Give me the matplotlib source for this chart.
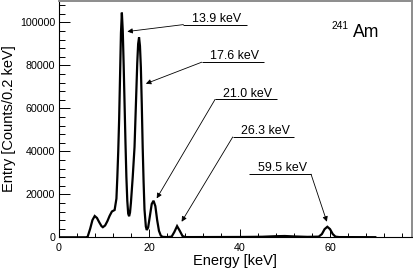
import matplotlib
matplotlib.use("Agg")
import matplotlib.pyplot as plt
from matplotlib.ticker import MultipleLocator

plt.rcParams['font.family'] = ['Liberation Sans', 'DejaVu Sans']

# Spectrum (energy in keV, counts per 0.2 keV)
energy = [0.0, 6.2, 6.4, 7.0, 7.5, 8.0, 8.5, 9.0, 9.5, 9.8, 10.3, 10.8, 11.3, 11.8,
          12.4, 12.8, 13.0, 13.2, 13.4, 13.6, 13.8, 14.0, 14.2, 14.4, 14.6, 14.8,
          15.0, 15.2, 15.4, 15.6, 15.8, 16.0, 16.4, 16.8, 17.0, 17.2, 17.4, 17.6,
          17.8, 18.0, 18.2, 18.4, 18.6, 18.8, 19.0, 19.3, 19.5, 19.8, 20.2, 20.6,
          21.0, 21.4, 21.8, 22.2, 22.6, 23.0, 24.0, 25.0, 25.6, 26.2, 26.8, 27.4,
          28.0, 30.0, 40.0, 45.0, 48.0, 50.0, 52.0, 55.0, 57.5, 58.2, 58.8, 59.4,
          60.0, 60.6, 61.2, 62.0, 70.0]
counts = [0, 0, 0, 4000, 8000, 9900, 9000, 7000, 5200, 4700, 5500, 7500, 10000, 12000,
          12700, 18000, 28000, 40000, 55000, 75000, 95000, 104500, 96000, 80000, 62000, 44000,
          28000, 17000, 11000, 9800, 11500, 16000, 28000, 42000, 55000, 68000, 81000, 90000,
          93000, 89000, 79000, 62000, 42000, 26000, 13000, 5000, 3400, 4500, 10000, 15500,
          17000, 14500, 8000, 3000, 800, 200, 100, 300, 2500, 5200, 3000, 600,
          100, 100, 150, 250, 500, 600, 400, 200, 300, 1500, 3800, 4900,
          3800, 1500, 300, 100, 50]

# Line labels
line_labels = ["13.9 keV", "17.6 keV", "21.0 keV", "26.3 keV", "59.5 keV"]
isotope_mass = "241"
isotope_name = "Am"

xlabel = "Energy [keV]"
ylabel = "Entry [Counts/0.2 keV]"

fig = plt.figure(figsize=(4.13, 2.73), dpi=100)
ax = fig.add_axes([58.5 / 413, 1 - 237.3 / 273, (411.5 - 58.5) / 413, (237.3 - 0.8) / 273])

ax.plot(energy, counts, color='black', lw=1.6, solid_joinstyle='miter')
ax.set_xlim(0, 78)
ax.set_ylim(0, 110000)

ax.xaxis.set_major_locator(MultipleLocator(20))
ax.xaxis.set_minor_locator(MultipleLocator(4))
ax.yaxis.set_major_locator(MultipleLocator(20000))
ax.yaxis.set_minor_locator(MultipleLocator(4000))
ax.tick_params(axis='both', which='both', direction='in', top=False, right=False,
               labelsize=7.7, width=0.7, colors='black')
ax.tick_params(axis='x', which='major', length=6, pad=4)
ax.tick_params(axis='x', which='minor', length=3)
ax.tick_params(axis='y', which='major', length=8, pad=2.5)
ax.tick_params(axis='y', which='minor', length=4.3)

for s in ('left', 'bottom'):
    ax.spines[s].set_color('black')
    ax.spines[s].set_linewidth(0.8)
for s in ('top', 'right'):
    ax.spines[s].set_color('#8c8c8c')
    ax.spines[s].set_linewidth(1.4)

ax.set_xlabel(xlabel, fontsize=10.5, labelpad=1)
ax.set_ylabel(ylabel, fontsize=10.5, labelpad=3)

# annotation layout: (underline start x, underline end x, underline y, arrow tip x, arrow tip y, arrow from right end?)
layout = [
    (27.6, 41.6, 98930, 15.2, 95700, False),
    (31.65, 45.5, 81450, 19.3, 71430, False),
    (34.6, 48.3, 64150, 21.7, 18090, False),
    (38.5, 52.1, 46660, 27.2, 7240, False),
    (42.2, 55.8, 29360, 59.3, 7240, True),
]
for text, (x0, x1, yu, tx, ty, from_right) in zip(line_labels, layout):
    ax.plot([x0, x1], [yu, yu], color='black', lw=0.7, solid_capstyle='butt')
    ax.annotate(text, xy=((x0 + x1) / 2 + 0.4, yu), xytext=(0, 2.0), textcoords='offset points',
                ha='center', va='baseline', fontsize=8.9)
    sx = x1 if from_right else x0
    ax.annotate('', xy=(tx, ty), xytext=(sx, yu),
                arrowprops=dict(arrowstyle='-|>', lw=0.6, color='black',
                                mutation_scale=7.5, shrinkA=0, shrinkB=0))

ax.text(60.4, 96940, isotope_mass, fontsize=7.4, ha='left', va='baseline')
ax.text(65.15, 93370, isotope_name, fontsize=12.7, ha='left', va='baseline')

fig.savefig("out.png", dpi=100)
